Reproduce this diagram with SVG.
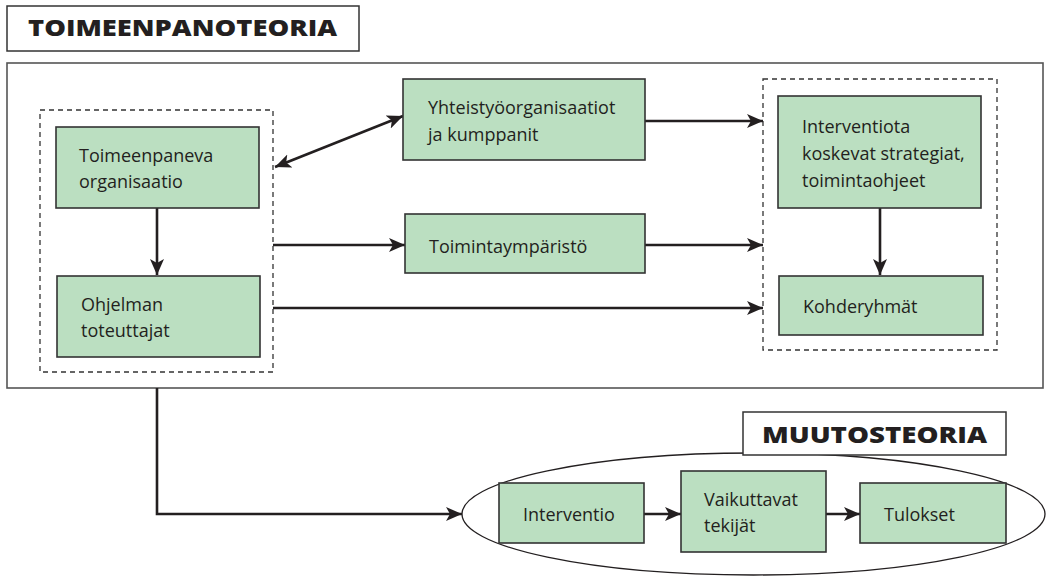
<svg xmlns="http://www.w3.org/2000/svg" width="1049" height="576" viewBox="0 0 1049 576">
<style>
.box{fill:#bbdfc1;stroke:#333;stroke-width:1.6}
.lbl{font-family:"Open Sans","Liberation Sans",sans-serif;font-size:18px;fill:#231f20}
.ttl{font-family:"Open Sans","Liberation Sans",sans-serif;font-size:23px;font-weight:800;fill:#231f20}
.dash{fill:none;stroke:#333;stroke-width:1.3;stroke-dasharray:5,4}
.con{fill:none;stroke:#231f20;stroke-width:2.6}
</style>
<defs>
<marker id="ah" markerUnits="userSpaceOnUse" markerWidth="18" markerHeight="16" refX="16" refY="7" orient="auto-start-reverse" viewBox="0 0 18 14">
<path d="M0,0 L16,7 L0,14 L4,7 Z" fill="#231f20"/>
</marker>
</defs>
<g id="title-toimeenpano">
<rect x="7" y="6" width="352" height="45" fill="#fff" stroke="#333" stroke-width="1.5"/>
<text class="ttl" x="28" y="36" textLength="309" lengthAdjust="spacingAndGlyphs">TOIMEENPANOTEORIA</text>
</g>
<g id="outer-frame">
<rect x="7" y="63" width="1036" height="325" fill="none" stroke="#555" stroke-width="1.6"/>
</g>
<g id="group-left">
<rect class="dash" x="40" y="110" width="233" height="262"/>
</g>
<g id="group-right">
<rect class="dash" x="763" y="79" width="234" height="271"/>
</g>
<g id="connectors">
<line class="con" x1="157" y1="208" x2="157" y2="275" marker-end="url(#ah)"/>
<line class="con" x1="275" y1="167" x2="403" y2="116" marker-start="url(#ah)" marker-end="url(#ah)"/>
<line class="con" x1="273" y1="245" x2="405" y2="245" marker-end="url(#ah)"/>
<line class="con" x1="273" y1="308" x2="763" y2="308" marker-end="url(#ah)"/>
<line class="con" x1="645" y1="121" x2="763" y2="121" marker-end="url(#ah)"/>
<line class="con" x1="645" y1="245" x2="763" y2="245" marker-end="url(#ah)"/>
<line class="con" x1="880" y1="208" x2="880" y2="275" marker-end="url(#ah)"/>
<polyline class="con" points="157,388 157,514 462,514" marker-end="url(#ah)"/>
<line class="con" x1="644" y1="514" x2="681" y2="514" marker-end="url(#ah)"/>
<line class="con" x1="826" y1="514" x2="860" y2="514" marker-end="url(#ah)"/>
</g>
<g id="toimeenpaneva">
<rect class="box" x="56" y="127" width="203" height="81"/>
<text class="lbl" x="79" y="162">Toimeenpaneva</text>
<text class="lbl" x="79" y="188">organisaatio</text>
</g>
<g id="ohjelman">
<rect class="box" x="57" y="276" width="203" height="81"/>
<text class="lbl" x="81" y="311">Ohjelman</text>
<text class="lbl" x="81" y="337">toteuttajat</text>
</g>
<g id="yhteistyo">
<rect class="box" x="403" y="79" width="242" height="81"/>
<text class="lbl" x="428" y="114">Yhteistyöorganisaatiot</text>
<text class="lbl" x="428" y="141">ja kumppanit</text>
</g>
<g id="toimintaymparisto">
<rect class="box" x="405" y="214" width="240" height="59"/>
<text class="lbl" x="429" y="253">Toimintaympäristö</text>
</g>
<g id="interventiota">
<rect class="box" x="778" y="96" width="203" height="112"/>
<text class="lbl" x="802" y="133">Interventiota</text>
<text class="lbl" x="802" y="160">koskevat strategiat,</text>
<text class="lbl" x="802" y="187">toimintaohjeet</text>
</g>
<g id="kohderyhmat">
<rect class="box" x="779" y="276" width="204" height="59"/>
<text class="lbl" x="803" y="313">Kohderyhmät</text>
</g>
<g id="muutosteoria">
<ellipse cx="753.5" cy="514" rx="291.5" ry="61" fill="none" stroke="#231f20" stroke-width="1.3"/>
<rect x="743" y="412" width="263" height="43" fill="#fff" stroke="#333" stroke-width="1.5"/>
<text class="ttl" x="762" y="443" textLength="225" lengthAdjust="spacingAndGlyphs">MUUTOSTEORIA</text>
</g>
<g id="interventio">
<rect class="box" x="499" y="483" width="145" height="60"/>
<text class="lbl" x="523" y="521">Interventio</text>
</g>
<g id="vaikuttavat">
<rect class="box" x="681" y="471" width="145" height="81"/>
<text class="lbl" x="704" y="506">Vaikuttavat</text>
<text class="lbl" x="704" y="532">tekijät</text>
</g>
<g id="tulokset">
<rect class="box" x="860" y="483" width="146" height="60"/>
<text class="lbl" x="884" y="521">Tulokset</text>
</g>
</svg>
